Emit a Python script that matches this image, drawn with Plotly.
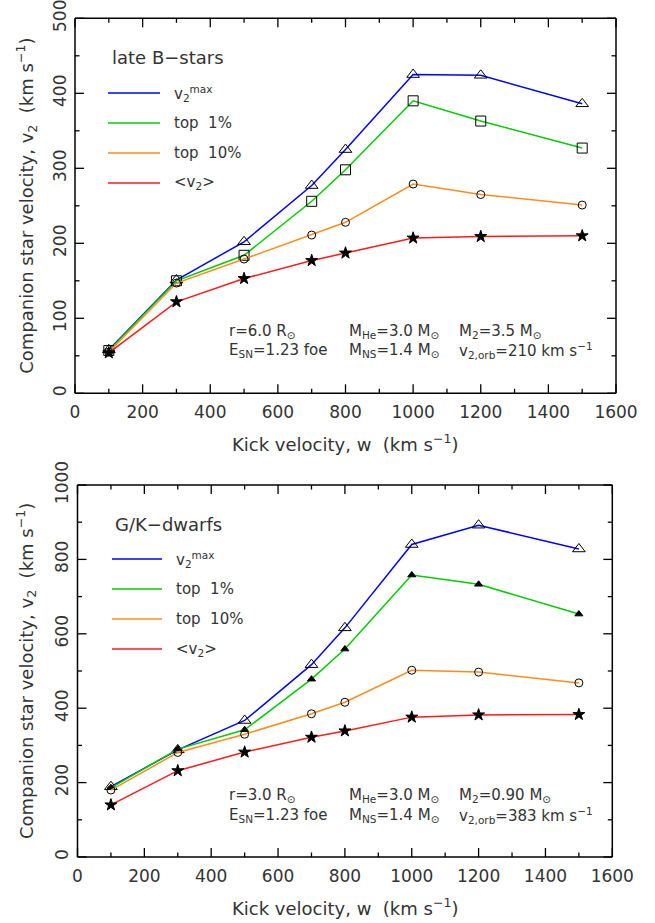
import plotly.graph_objects as go

W, H = 655, 923

kick = [100, 300, 500, 700, 800, 1000, 1200, 1500]

# late B-stars
b_vmax = [58, 151, 202, 277, 325, 425, 424, 386]
b_top1 = [57, 150, 184, 256, 298, 390, 363, 327]
b_top10 = [55, 147, 179, 211, 228, 279, 265, 251]
b_mean = [54, 122, 153, 177, 187, 207, 209, 210]

# G/K-dwarfs
g_vmax = [189, 288, 367, 517, 616, 840, 892, 828]
g_top1 = [186, 290, 342, 478, 559, 758, 733, 653]
g_top10 = [180, 281, 330, 385, 416, 502, 497, 468]
g_mean = [140, 232, 282, 322, 339, 376, 382, 383]

# axis ticks
x_major = [0, 200, 400, 600, 800, 1000, 1200, 1400, 1600]
x_minor = [100, 300, 500, 700, 900, 1100, 1300, 1500]
y1_major = [0, 100, 200, 300, 400, 500]
y1_minor = [50, 150, 250, 350, 450]
y2_major = [0, 200, 400, 600, 800, 1000]
y2_minor = [100, 300, 500, 700, 900]

series_names = ["v<sub>2</sub><sup>max</sup>", "top  1%", "top  10%", "&lt;v<sub>2</sub>&gt;"]
colors = ["#0000ff", "#00cc00", "#ff8c1a", "#ff1a1a"]

FONT = "DejaVu Sans"
TXT = "#333333"
AX = "#000000"


def px(x):
    return x / W


def py(y):
    return 1 - y / H


# subplot geometry (paper fractions)
X1_DOM = [px(75), px(616)]
Y1_DOM = [py(393.3), py(18.3)]
X2_DOM = [px(77.5), px(612.3)]
Y2_DOM = [py(857), py(485)]
X_RANGE = [0, 1600]
Y1_RANGE = [0, 500]
Y2_RANGE = [0, 1000]

fig = go.Figure()

top_sym = ["triangle-up-open", "square-open", "circle-open", "star"]
top_size = [11, 10, 8, 9]
bot_sym = ["triangle-up-open", "triangle-up", "circle-open", "star"]
bot_size = [11, 7, 8, 9]

for vals, sym, sz, col, nm in zip([b_vmax, b_top1, b_top10, b_mean], top_sym, top_size, colors, series_names):
    fig.add_trace(go.Scatter(x=kick, y=vals, mode="lines+markers", name=nm,
                             line=dict(color=col, width=1.5),
                             marker=dict(symbol=sym, size=sz, color="black",
                                         line=dict(color="black", width=1)),
                             xaxis="x", yaxis="y", showlegend=False, hoverinfo="skip"))
for vals, sym, sz, col, nm in zip([g_vmax, g_top1, g_top10, g_mean], bot_sym, bot_size, colors, series_names):
    fig.add_trace(go.Scatter(x=kick, y=vals, mode="lines+markers", name=nm,
                             line=dict(color=col, width=1.5),
                             marker=dict(symbol=sym, size=sz, color="black",
                                         line=dict(color="black", width=1)),
                             xaxis="x2", yaxis="y2", showlegend=False, hoverinfo="skip"))

axcommon = dict(showline=False, ticks="", showgrid=False, zeroline=False, automargin=False,
                ticklabeloverflow="allow", fixedrange=True,
                tickfont=dict(family=FONT, size=17, color=TXT))

fig.update_layout(
    template="none",
    width=W, height=H,
    margin=dict(l=0, r=0, t=0, b=0),
    paper_bgcolor="white", plot_bgcolor="white",
    xaxis=dict(domain=X1_DOM, range=X_RANGE, tickvals=x_major, anchor="y",
               ticklabelstandoff=7, **axcommon),
    yaxis=dict(domain=Y1_DOM, range=Y1_RANGE, tickvals=y1_major, anchor="x",
               tickangle=-90, ticklabelstandoff=5, **axcommon),
    xaxis2=dict(domain=X2_DOM, range=X_RANGE, tickvals=x_major, anchor="y2",
                ticklabelstandoff=7, **axcommon),
    yaxis2=dict(domain=Y2_DOM, range=Y2_RANGE, tickvals=y2_major, anchor="x2",
                tickangle=-90, ticklabelstandoff=5, **axcommon),
)

shapes = []
annots = []


def add_text(x, y, text, size, xanchor="left", angle=0):
    annots.append(dict(x=px(x), y=py(y), xref="paper", yref="paper", text=text,
                       showarrow=False, xanchor=xanchor, yanchor="middle", textangle=angle,
                       font=dict(family=FONT, size=size, color=TXT)))


def seg(x0, y0, x1, y1, w):
    shapes.append(dict(type="line", xref="paper", yref="paper", x0=x0, x1=x1, y0=y0, y1=y1,
                       line=dict(color=AX, width=w)))


def frame_and_ticks(xdom, ydom, xrng, yrng, xmaj, xmin, ymaj, ymin):
    seg(xdom[0], ydom[0], xdom[1], ydom[0], 1.5)
    seg(xdom[0], ydom[1], xdom[1], ydom[1], 1.5)
    seg(xdom[0], ydom[0], xdom[0], ydom[1], 1.5)
    seg(xdom[1], ydom[0], xdom[1], ydom[1], 1.5)

    def fx(v):
        return xdom[0] + (v - xrng[0]) / (xrng[1] - xrng[0]) * (xdom[1] - xdom[0])

    def fy(v):
        return ydom[0] + (v - yrng[0]) / (yrng[1] - yrng[0]) * (ydom[1] - ydom[0])

    for vals, ln in ((xmaj, 9), (xmin, 4.5)):
        d = ln / H
        for v in vals:
            seg(fx(v), ydom[0], fx(v), ydom[0] + d, 1.3)
            seg(fx(v), ydom[1], fx(v), ydom[1] - d, 1.3)
    for vals, ln in ((ymaj, 9), (ymin, 4.5)):
        d = ln / W
        for v in vals:
            seg(xdom[0], fy(v), xdom[0] + d, fy(v), 1.3)
            seg(xdom[1], fy(v), xdom[1] - d, fy(v), 1.3)


frame_and_ticks(X1_DOM, Y1_DOM, X_RANGE, Y1_RANGE, x_major, x_minor, y1_major, y1_minor)
frame_and_ticks(X2_DOM, Y2_DOM, X_RANGE, Y2_RANGE, x_major, x_minor, y2_major, y2_minor)

panels = [
    dict(title="late B−stars", tx=110, ty=58, lx0=108, lx1=160, ly=[93, 123, 153, 183], labx=172,
         row1=["r=6.0 R<sub>⊙</sub>", "M<sub>He</sub>=3.0 M<sub>⊙</sub>", "M<sub>2</sub>=3.5 M<sub>⊙</sub>"],
         row2=["E<sub>SN</sub>=1.23 foe", "M<sub>NS</sub>=1.4 M<sub>⊙</sub>",
               "v<sub>2,orb</sub>=210 km s<sup>−1</sup>"],
         r1y=331, r2y=351, xt=443, xc=345.5, yc=205.8),
    dict(title="G/K−dwarfs", tx=113, ty=524, lx0=112, lx1=162, ly=[559, 589, 619, 649], labx=174,
         row1=["r=3.0 R<sub>⊙</sub>", "M<sub>He</sub>=3.0 M<sub>⊙</sub>", "M<sub>2</sub>=0.90 M<sub>⊙</sub>"],
         row2=["E<sub>SN</sub>=1.23 foe", "M<sub>NS</sub>=1.4 M<sub>⊙</sub>",
               "v<sub>2,orb</sub>=383 km s<sup>−1</sup>"],
         r1y=795, r2y=815, xt=907, xc=345, yc=671),
]

for p in panels:
    add_text(p["tx"], p["ty"], p["title"], 18)
    for yy, col, nm in zip(p["ly"], colors, series_names):
        shapes.append(dict(type="line", xref="paper", yref="paper",
                           x0=px(p["lx0"]), x1=px(p["lx1"]), y0=py(yy), y1=py(yy),
                           line=dict(color=col, width=1.5)))
        add_text(p["labx"], yy, nm, 15)
    for xx, t1, t2 in zip([227, 347, 457], p["row1"], p["row2"]):
        add_text(xx, p["r1y"], t1, 15)
        add_text(xx, p["r2y"], t2, 15)
    add_text(p["xc"], p["xt"], "Kick velocity, w  (km s<sup>−1</sup>)", 18, xanchor="center")
    add_text(26, p["yc"], "Companion star velocity, v<sub>2</sub>  (km s<sup>−1</sup>)", 18,
             xanchor="center", angle=-90)

fig.update_layout(shapes=shapes, annotations=annots)

fig.write_html("out.html", config={"displayModeBar": False, "staticPlot": True},
               post_script="document.body.style.margin = '0';")
